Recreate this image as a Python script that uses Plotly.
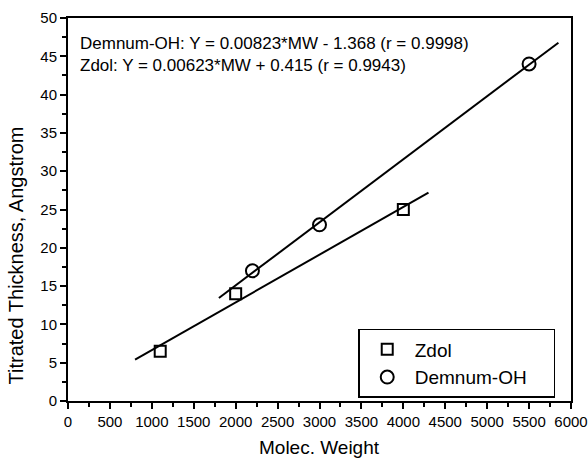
import plotly.graph_objects as go

zdol_mw = [1100, 2000, 4000]
zdol_th = [6.5, 14, 25]
dem_mw = [2200, 3000, 5500]
dem_th = [17, 23, 44]

zdol_fit_x = [800, 4300]
dem_fit_x = [1800, 5850]
zdol_slope, zdol_icpt = 0.00623, 0.415
dem_slope, dem_icpt = 0.00823, -1.368

font = "Liberation Sans, Arial, Helvetica, sans-serif"

fig = go.Figure()
fig.add_trace(go.Scatter(x=zdol_fit_x, y=[zdol_slope * x + zdol_icpt for x in zdol_fit_x],
                         mode="lines", line=dict(color="black", width=2), showlegend=False))
fig.add_trace(go.Scatter(x=dem_fit_x, y=[dem_slope * x + dem_icpt for x in dem_fit_x],
                         mode="lines", line=dict(color="black", width=2), showlegend=False))
fig.add_trace(go.Scatter(x=zdol_mw, y=zdol_th, mode="markers", name="Zdol",
                         marker=dict(symbol="square-open", size=11, color="black",
                                     line=dict(width=2, color="black"))))
fig.add_trace(go.Scatter(x=dem_mw, y=dem_th, mode="markers",
                         name="Demnum-OH&nbsp;&nbsp;&nbsp;&nbsp;",
                         marker=dict(symbol="circle-open", size=13, color="black",
                                     line=dict(width=2, color="black"))))

fig.add_annotation(x=0, y=50, xref="x", yref="y", xanchor="left", yanchor="top",
                   xshift=10, yshift=-14, showarrow=False, align="left",
                   text="Demnum-OH: Y = 0.00823*MW - 1.368 (r = 0.9998)<br>Zdol: Y = 0.00623*MW + 0.415 (r = 0.9943)",
                   font=dict(family=font, size=17, color="black"))

# axis titles as annotations (fixed positions)
fig.add_annotation(x=0.5, y=0, xref="paper", yref="paper", xanchor="center", yanchor="middle",
                   yshift=-46, showarrow=False, text="Molec. Weight",
                   font=dict(family=font, size=19, color="black"))
fig.add_annotation(x=0, y=0.38, xref="paper", yref="paper", xanchor="center", yanchor="middle",
                   xshift=-52, showarrow=False, text="Titrated Thickness, Angstrom", textangle=-90,
                   font=dict(family=font, size=20, color="black"))

axis_common = dict(showline=True, linecolor="black", linewidth=2, mirror=True,
                   ticks="outside", ticklen=6, tickwidth=1.5, tickcolor="black",
                   showgrid=False, zeroline=False, automargin=False,
                   tickfont=dict(family=font, size=15, color="black"))

fig.update_xaxes(range=[0, 6000], dtick=500,
                 minor=dict(ticks="outside", ticklen=4, dtick=250, tickcolor="black", tickwidth=1.5),
                 **axis_common)
fig.update_yaxes(range=[0, 50], dtick=5,
                 minor=dict(ticks="outside", ticklen=4, dtick=2.5, tickcolor="black", tickwidth=1.5),
                 **axis_common)

fig.update_layout(
    width=588, height=460,
    margin=dict(l=68, r=17, t=18, b=59, autoexpand=False),
    plot_bgcolor="white", paper_bgcolor="white",
    font=dict(family=font, color="black"),
    legend=dict(x=0.577, y=0.188, xanchor="left", yanchor="top",
                bordercolor="black", borderwidth=1.5, bgcolor="white",
                font=dict(family=font, size=19, color="black"),
                itemwidth=45, tracegroupgap=0),
)

fig.write_html("out.html")
